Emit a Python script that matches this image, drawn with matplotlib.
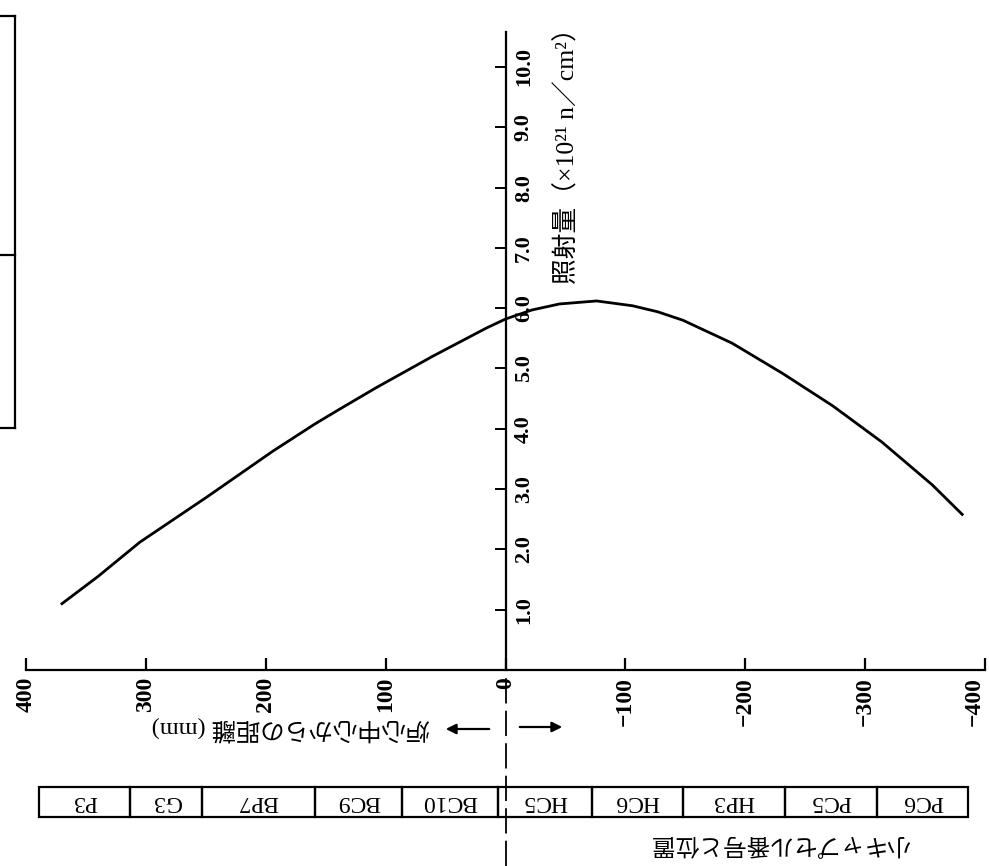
import matplotlib
matplotlib.use("Agg")
import matplotlib.pyplot as plt
import matplotlib.transforms as mtransforms
from matplotlib.patches import Rectangle
from matplotlib.lines import Line2D

plt.rcParams['font.family'] = ['Liberation Serif', 'Noto Sans CJK JP']

# distance from core centre (mm) and fluence (x10^21 n/cm^2)
distance_mm = [370, 340, 305, 249, 194, 159, 138, 108, 61, 16, 0, -22, -45,
               -76, -106, -127, -148, -189, -231, -273, -314, -356, -381]
fluence = [1.10, 1.55, 2.12, 2.87, 3.63, 4.08, 4.33, 4.68, 5.20, 5.67, 5.82,
           5.97, 6.07, 6.12, 6.04, 5.94, 5.80, 5.42, 4.92, 4.38, 3.78, 3.07, 2.58]

x_ticks = [400, 300, 200, 100, 0, -100, -200, -300, -400]
x_ticklabels = ["400", "300", "200", "100", "0", "−100", "−200", "−300", "−400"]
y_ticks = [1, 2, 3, 4, 5, 6, 7, 8, 9, 10]
y_ticklabels = ["1.0", "2.0", "3.0", "4.0", "5.0", "6.0", "7.0", "8.0", "9.0", "10.0"]

# capsule names and their boundaries along the core (mm)
capsules = ["P3", "G3", "BP7", "BC9", "BC10", "HC5", "HC6", "HP3", "PC5", "PC6"]
capsule_edges = [389, 313, 253, 159, 86, 6, -72, -148, -233, -310, -386]

fig = plt.figure(figsize=(9.89, 8.66), dpi=100)
ax = fig.add_axes([26 / 989, 1 - 670 / 866, (985 - 26) / 989, (670 - 32) / 866])

ax.plot(distance_mm, fluence, color="black", lw=2.0)

ax.set_xlim(400, -400)
ax.set_ylim(0, 10.58)

ax.spines['top'].set_visible(False)
ax.spines['left'].set_visible(False)
ax.spines['right'].set_position(('data', 0))
ax.spines['right'].set_linewidth(1.6)
ax.spines['bottom'].set_linewidth(1.6)
ax.yaxis.tick_right()

ax.set_xticks(x_ticks)
ax.set_xticklabels(x_ticklabels, rotation=90, fontsize=17, fontweight="bold")
ax.get_xticklabels()[-1].set_ha("right")
ax.set_yticks(y_ticks)
ax.set_yticklabels(y_ticklabels, rotation=90, fontsize=16, va="center",
                   fontweight="bold")
ax.tick_params(axis='x', direction='in', length=9, width=1.6, pad=5)
ax.tick_params(axis='y', direction='in', length=8, width=1.4, pad=6)

# dashed centre line down through the capsule table
ax.axvline(0, ymin=-0.307, ymax=0, color="black", lw=1.3, ls=(0, (14, 4)),
           clip_on=False)

fig.text(567 / 989, 1 - 150 / 866, "照射量（×10²¹ n／cm²）", rotation=90,
         fontsize=18.5, ha="center", va="center")

fig.text(291 / 989, 1 - 729 / 866, "炉心中心からの距離 (mm)", rotation=180,
         fontsize=17.5, ha="center", va="center")
fig.text(780 / 989, 1 - 843 / 866, "小キャプセル番号と位置", rotation=180,
         fontsize=17, ha="center", va="center")

# arrows either side of the centre line
arrow = dict(arrowstyle="-|>", color="black", lw=1.6, mutation_scale=15)
ax.annotate("", xy=(443 / 989, 1 - 729 / 866), xytext=(492 / 989, 1 - 729 / 866),
            xycoords=fig.transFigure, textcoords=fig.transFigure, arrowprops=arrow)
ax.annotate("", xy=(565 / 989, 1 - 727 / 866), xytext=(517 / 989, 1 - 727 / 866),
            xycoords=fig.transFigure, textcoords=fig.transFigure, arrowprops=arrow)

# capsule table
trans = mtransforms.blended_transform_factory(ax.transData, fig.transFigure)
t_bottom = 1 - 817 / 866
t_top = 1 - 787 / 866
for i, name in enumerate(capsules):
    x0, x1 = capsule_edges[i], capsule_edges[i + 1]
    ax.add_patch(Rectangle((x0, t_bottom), x1 - x0, t_top - t_bottom,
                           transform=trans, fill=False, lw=1.6,
                           edgecolor="black", clip_on=False))
    ax.text((x0 + x1) / 2, (t_bottom + t_top) / 2, name, transform=trans,
            rotation=180, fontsize=17, ha="center", va="center")

# fragment of a box cut off at the top-left edge
bx = 15.5 / 989
for yy in [1 - 16 / 866, 1 - 255 / 866, 1 - 428 / 866]:
    fig.add_artist(Line2D([0, bx], [yy, yy], color="black", lw=1.6))
fig.add_artist(Line2D([bx, bx], [1 - 16 / 866, 1 - 428 / 866], color="black", lw=1.6))

fig.savefig("out.png", dpi=100)
